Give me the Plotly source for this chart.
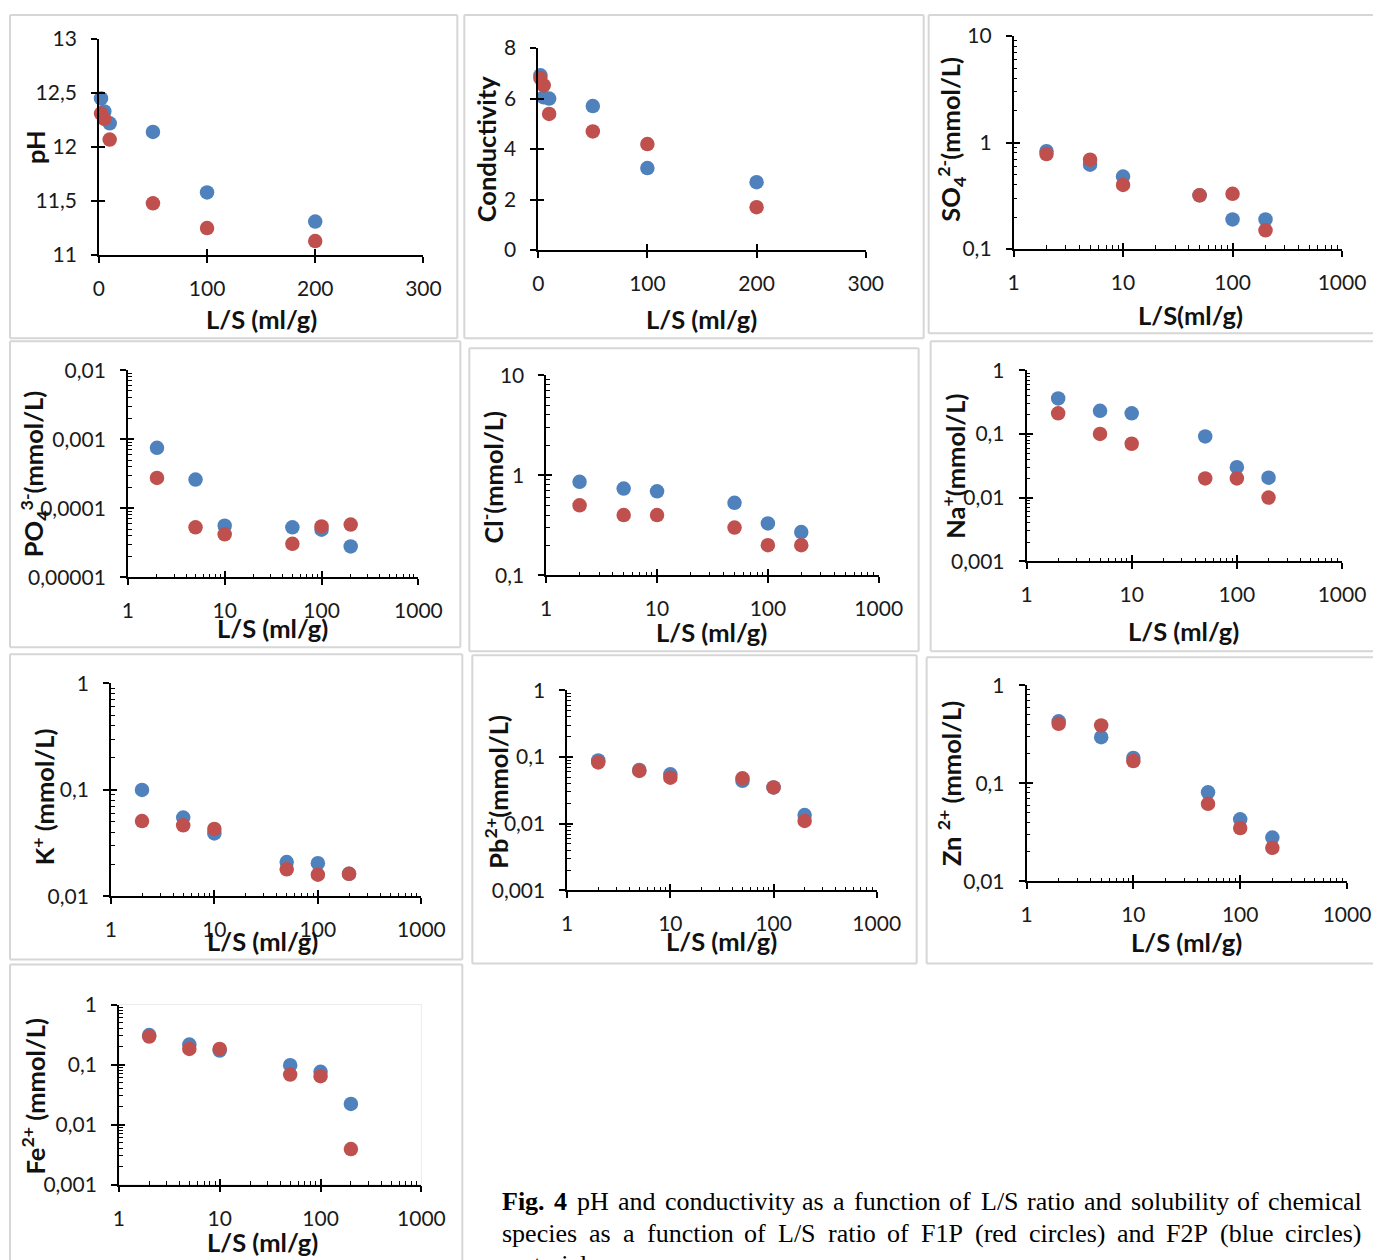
import numpy as np
import plotly.graph_objects as go

# The photographed picture shows the page at a slight reduction with an offset,
# so every layout position (given below in picture pixels) is mapped back to page pixels.
S, OX, OY = 0.98, 6.0, 13.0
W, H = 1400, 1282

# ---------------- data ----------------
LS = [2, 5, 10, 50, 100, 200]          # L/S ratio (ml/g)

ph_f2p = [12.45, 12.33, 12.22, 12.14, 11.58, 11.31]
ph_f1p = [12.31, 12.26, 12.07, 11.48, 11.25, 11.13]

cond_f2p = [6.92, 6.05, 6.0, 5.70, 3.25, 2.69]
cond_f1p = [6.81, 6.52, 5.39, 4.70, 4.20, 1.70]

so4_f2p = [0.83, 0.62, 0.48, 0.32, 0.19, 0.19]
so4_f1p = [0.78, 0.69, 0.40, 0.32, 0.33, 0.15]

po4_f2p = [7.5e-4, 2.6e-4, 5.6e-5, 5.3e-5, 4.9e-5, 2.8e-5]
po4_f1p = [2.75e-4, 5.3e-5, 4.2e-5, 3.05e-5, 5.45e-5, 5.8e-5]

cl_f2p = [0.86, 0.735, 0.69, 0.53, 0.33, 0.27]
cl_f1p = [0.50, 0.40, 0.40, 0.30, 0.20, 0.20]

na_f2p = [0.36, 0.23, 0.21, 0.091, 0.030, 0.0205]
na_f1p = [0.21, 0.10, 0.070, 0.020, 0.020, 0.010]

k_f2p = [0.10, 0.055, 0.039, 0.021, 0.0205, 0.0163]
k_f1p = [0.051, 0.0465, 0.043, 0.018, 0.016, 0.0163]

pb_f2p = [0.089, 0.064, 0.055, 0.044, 0.035, 0.0135]
pb_f1p = [0.083, 0.062, 0.049, 0.048, 0.035, 0.011]

zn_f2p = [0.43, 0.296, 0.182, 0.081, 0.043, 0.028]
zn_f1p = [0.405, 0.39, 0.169, 0.062, 0.035, 0.022]

fe_f2p = [0.31, 0.215, 0.171, 0.0975, 0.0755, 0.0221]
fe_f1p = [0.293, 0.182, 0.182, 0.068, 0.064, 0.0039]

caption_line1 = "Fig. 4 pH and conductivity as a function of L/S ratio and solubility of chemical"
caption_line2 = "species as a function of L/S ratio of F1P (red circles) and F2P (blue circles)"
caption_line3 = "material"

BLUE = "#4F81BD"
RED = "#C0504D"
TICKFONT = dict(family="Lato, Carlito, sans-serif", size=21, color="#1a1a1a")
TITLEFONT = dict(family="Lato, Carlito, sans-serif", size=25.5, color="#111111")

# panel layout in picture pixels: box = (x_left, x_right, y_bottom, y_top)
# frame = (left, right, top, bottom, sides-to-draw)
panels = [
    dict(blue=ph_f2p, red=ph_f1p, log=False, xr=(0, 300), yr=(11, 13),
         xt=[0, 100, 200, 300], yt=[11, 11.5, 12, 12.5, 13],
         box=(99, 424, 254, 38), ytitle="<b>pH</b>", ytp=(35, 146),
         xtitle="<b>L/S (ml/g)</b>", xtp=(262, 318), frame=(10, 458, 14, 337, "tlbr")),
    dict(blue=cond_f2p, red=cond_f1p, log=False, xr=(0, 300), yr=(0, 8),
         xt=[0, 100, 200, 300], yt=[0, 2, 4, 6, 8],
         box=(539, 867, 249, 47), ytitle="<b>Conductivity</b>", ytp=(487, 148),
         xtitle="<b>L/S (ml/g)</b>", xtp=(703, 318), frame=(465, 925, 14, 337, "tlbr")),
    dict(blue=so4_f2p, red=so4_f1p, log=True, xr=(0, 3), yr=(-1, 1),
         box=(1015, 1344, 248, 35), ytitle="<b>SO<sub>4</sub><sup>2-</sup>(mmol/L)</b>", ytp=(952, 138),
         xtitle="<b>L/S(ml/g)</b>", xtp=(1192, 314), frame=(930, 1385, 14, 332, "tlb")),
    dict(blue=po4_f2p, red=po4_f1p, log=True, xr=(0, 3), yr=(-5, -2),
         box=(128, 419, 576, 369), ytitle="<b>PO<sub>4</sub><sup>3-</sup>(mmol/L)</b>", ytp=(34, 472),
         xtitle="<b>L/S (ml/g)</b>", xtp=(273, 627), frame=(10, 461, 340, 646, "tlbr")),
    dict(blue=cl_f2p, red=cl_f1p, log=True, xr=(0, 3), yr=(-1, 1),
         box=(547, 880, 574, 374), ytitle="<b>Cl<sup>-</sup>(mmol/L)</b>", ytp=(492, 476),
         xtitle="<b>L/S (ml/g)</b>", xtp=(713, 631), frame=(470, 920, 347, 650, "tlbr")),
    dict(blue=na_f2p, red=na_f1p, log=True, xr=(0, 3), yr=(-3, 0),
         box=(1028, 1344, 560, 369), ytitle="<b>Na<sup>+</sup>(mmol/L)</b>", ytp=(955, 465),
         xtitle="<b>L/S (ml/g)</b>", xtp=(1185, 630), frame=(932, 1385, 340, 650, "tlb")),
    dict(blue=k_f2p, red=k_f1p, log=True, xr=(0, 3), yr=(-2, 0),
         box=(111, 422, 895, 682), ytitle="<b>K<sup>+</sup> (mmol/L)</b>", ytp=(43, 795),
         xtitle="<b>L/S (ml/g)</b>", xtp=(263, 940), frame=(10, 463, 653, 958, "tlbr")),
    dict(blue=pb_f2p, red=pb_f1p, log=True, xr=(0, 3), yr=(-3, 0),
         box=(568, 878, 889, 689), ytitle="<b>Pb<sup>2+</sup>(mmol/L)</b>", ytp=(497, 790),
         xtitle="<b>L/S (ml/g)</b>", xtp=(723, 940), frame=(473, 918, 654, 962, "tlbr")),
    dict(blue=zn_f2p, red=zn_f1p, log=True, xr=(0, 3), yr=(-2, 0),
         box=(1028, 1349, 880, 684), ytitle="<b>Zn <sup>2+</sup> (mmol/L)</b>", ytp=(951, 782),
         xtitle="<b>L/S (ml/g)</b>", xtp=(1188, 941), frame=(928, 1385, 656, 962, "tlb")),
    dict(blue=fe_f2p, red=fe_f1p, log=True, xr=(0, 3), yr=(-3, 0),
         box=(119, 422, 1183, 1003), ytitle="<b>Fe<sup>2+</sup> (mmol/L)</b>", ytp=(33, 1094),
         xtitle="<b>L/S (ml/g)</b>", xtp=(263, 1240), frame=(10, 463, 963, 1275, "tlr")),
]


def fmt(v):
    s = f"{v:.10f}".rstrip("0").rstrip(".")
    return s.replace(".", ",")


def px_x(r):
    return ((r - OX) / S) / W


def px_y(r):
    return 1 - ((r - OY) / S) / H


def ax_name(i, letter):
    return f"{letter}axis" if i == 1 else f"{letter}axis{i}"


def ref(i, letter):
    return letter if i == 1 else f"{letter}{i}"


fig = go.Figure()
layout = dict(width=W, height=H, autosize=False, margin=dict(l=0, r=0, t=0, b=0, pad=0),
              paper_bgcolor="white", plot_bgcolor="white", showlegend=False,
              separators=",.")
annotations = []
shapes = []
FRAME_LINE = dict(color="#d6d6d6", width=2)

N = len(panels)
for k, p in enumerate(panels):
    i = k + 1
    j = k + 1 + N  # overlay axes id
    xl, xrp, yb, yt = p["box"]
    xdom = [px_x(xl), px_x(xrp)]
    ydom = [px_y(yb), px_y(yt)]

    if p["log"]:
        typ = "log"
        xmaj = [10 ** e for e in range(p["xr"][0], p["xr"][1] + 1)]
        ymaj = [10.0 ** e for e in range(p["yr"][0], p["yr"][1] + 1)]
        xmin = [m * 10 ** e for e in range(p["xr"][0], p["xr"][1]) for m in range(2, 10)]
        ymin = [m * 10.0 ** e for e in range(p["yr"][0], p["yr"][1]) for m in range(2, 10)]
    else:
        typ = "linear"
        xmaj, ymaj = p["xt"], p["yt"]
        xmin, ymin = [], []
    xtext = [fmt(v) for v in xmaj]
    ytext = [fmt(v) for v in ymaj]

    common = dict(type=typ, showgrid=False, zeroline=False, tickcolor="black",
                  tickwidth=1.5, ticklen=6)

    layout[ax_name(i, "x")] = dict(
        common, domain=xdom, range=list(p["xr"]), anchor=ref(i, "y"),
        showline=True, linecolor="black", linewidth=1.5, ticks="outside",
        tickmode="array", tickvals=xmaj, ticktext=xtext, tickfont=TICKFONT,
        ticklabelstandoff=8,
        minor=dict(ticks="inside" if xmin else "", ticklen=4, tickwidth=1,
                   tickcolor="black", tickmode="array", tickvals=xmin, showgrid=False))
    layout[ax_name(i, "y")] = dict(
        common, domain=ydom, range=list(p["yr"]), anchor=ref(i, "x"),
        showline=True, linecolor="black", linewidth=1.5, ticks="outside",
        tickmode="array", tickvals=ymaj, ticktext=ytext, tickfont=TICKFONT,
        ticklabelstandoff=10,
        minor=dict(ticks="inside" if ymin else "", ticklen=4, tickwidth=1,
                   tickcolor="black", tickmode="array", tickvals=ymin, showgrid=False))
    # overlay axes: inner half of the crossing major ticks
    layout[ax_name(j, "x")] = dict(
        common, range=list(p["xr"]), overlaying=ref(i, "x"), anchor=ref(j, "y"),
        showline=False, ticks="inside", tickmode="array", tickvals=xmaj,
        showticklabels=False)
    layout[ax_name(j, "y")] = dict(
        common, range=list(p["yr"]), overlaying=ref(i, "y"), anchor=ref(j, "x"),
        showline=False, ticks="inside", tickmode="array", tickvals=ymaj,
        showticklabels=False)

    fig.add_trace(go.Scatter(x=LS, y=p["blue"], mode="markers", name="F2P",
                             marker=dict(color=BLUE, size=14.5),
                             xaxis=ref(i, "x"), yaxis=ref(i, "y"), cliponaxis=False))
    fig.add_trace(go.Scatter(x=LS, y=p["red"], mode="markers", name="F1P",
                             marker=dict(color=RED, size=14.5),
                             xaxis=ref(j, "x"), yaxis=ref(j, "y"), cliponaxis=False))

    annotations.append(dict(text=p["ytitle"], x=px_x(p["ytp"][0]), y=px_y(p["ytp"][1]),
                            xref="paper", yref="paper", textangle=-90, showarrow=False,
                            xanchor="center", yanchor="middle", font=TITLEFONT))
    annotations.append(dict(text=p["xtitle"], x=px_x(p["xtp"][0]), y=px_y(p["xtp"][1]),
                            xref="paper", yref="paper", showarrow=False,
                            xanchor="center", yanchor="middle", font=TITLEFONT))
    fl, fr, ftop, fbot, sides = p["frame"]
    segs = {"t": (fl, ftop, fr, ftop), "b": (fl, fbot, fr, fbot),
            "l": (fl, ftop, fl, fbot), "r": (fr, ftop, fr, fbot)}
    for s in sides:
        x0, y0, x1, y1 = segs[s]
        shapes.append(dict(type="line", xref="paper", yref="paper",
                           x0=px_x(x0), y0=px_y(y0), x1=px_x(x1), y1=px_y(y1),
                           line=FRAME_LINE, layer="below"))

# faint plot-area border of the Fe panel
shapes.append(dict(type="rect", xref="x10 domain", yref="y10 domain", x0=0, x1=1, y0=0, y1=1,
                   line=dict(color="#ececec", width=1), layer="below"))

# ---------- justified caption (Times metrics, per 1000 em) ----------
TIMES = {" ": 250, "(": 333, ")": 333, "/": 278, ".": 250, "1": 500, "2": 500, "4": 500,
         "a": 444, "b": 500, "c": 444, "d": 500, "e": 444, "f": 333, "g": 500, "h": 500,
         "i": 278, "l": 278, "m": 778, "n": 500, "o": 500, "p": 500, "r": 333, "s": 389,
         "t": 278, "u": 500, "v": 500, "y": 500, "C": 667, "F": 556, "H": 722, "L": 611,
         "P": 556, "S": 556}
TIMES_BOLD = {"F": 611, "i": 278, "g": 500, ".": 250, "4": 500}
CAP_SIZE = 26
CAP = dict(family="Liberation Serif, Times New Roman, serif", size=CAP_SIZE, color="black")


def word_w(word, bold=False):
    # width as it appears in the picture
    tab = TIMES_BOLD if bold else TIMES
    return sum(tab.get(ch, 500) for ch in word) * CAP_SIZE / 1000.0 * S


def justify(line, x_left, x_right, y, n_bold=0):
    words = line.split(" ")
    widths = [word_w(w, bold=(n < n_bold)) for n, w in enumerate(words)]
    gap = (x_right - x_left - sum(widths)) / (len(words) - 1)
    x = x_left
    for n, (w, ww) in enumerate(zip(words, widths)):
        txt = f"<b>{w}</b>" if n < n_bold else w
        annotations.append(dict(text=txt, x=px_x(x), y=px_y(y), xref="paper", yref="paper",
                                showarrow=False, xanchor="left", yanchor="middle", font=CAP,
                                borderpad=0))
        x += ww + gap


justify(caption_line1, 502, 1361, 1200, n_bold=2)
justify(caption_line2, 502, 1361, 1232)
annotations.append(dict(text=caption_line3, x=px_x(502), y=px_y(1263), xref="paper", yref="paper",
                        showarrow=False, xanchor="left", yanchor="middle", font=CAP, borderpad=0))

layout["annotations"] = annotations
layout["shapes"] = shapes
fig.update_layout(**layout)
fig.write_html("out.html")
